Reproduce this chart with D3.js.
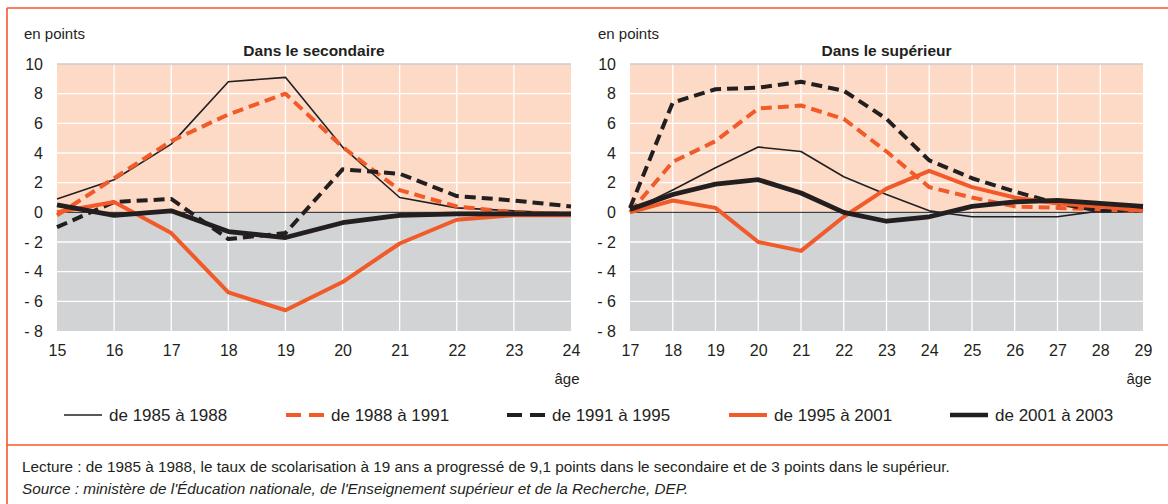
<!DOCTYPE html>
<html>
<head>
<meta charset="utf-8">
<script src="https://cdn.jsdelivr.net/npm/d3@7"></script>
<style>
  body { margin: 0; background: #fff; }
  svg text { font-family: "Liberation Sans Narrow", "Arial Narrow", "Liberation Sans", sans-serif; fill: #231f20; }
</style>
</head>
<body>
<svg id="chart" width="1168" height="504"></svg>
<script>
// ages on the x axis
const agesSec = [15, 16, 17, 18, 19, 20, 21, 22, 23, 24];
const agesSup = [17, 18, 19, 20, 21, 22, 23, 24, 25, 26, 27, 28, 29];
const yTicks = [10, 8, 6, 4, 2, 0, -2, -4, -6, -8];

const periods = ["de 1985 à 1988", "de 1988 à 1991", "de 1991 à 1995", "de 1995 à 2001", "de 2001 à 2003"];

// secondaire, one array per period
const sec1985 = [0.9, 2.2, 4.6, 8.8, 9.1, 4.4, 1.0, 0.3, 0.1, -0.1];
const sec1988 = [-0.2, 2.3, 4.8, 6.6, 8.0, 4.4, 1.5, 0.4, 0.0, -0.1];
const sec1991 = [-1.0, 0.7, 0.9, -1.8, -1.4, 2.9, 2.6, 1.1, 0.8, 0.4];
const sec1995 = [0.0, 0.7, -1.4, -5.4, -6.6, -4.7, -2.1, -0.5, -0.2, -0.2];
const sec2001 = [0.5, -0.2, 0.1, -1.3, -1.7, -0.7, -0.2, -0.1, -0.1, -0.1];

// supérieur
const sup1985 = [0.1, 1.5, 3.0, 4.4, 4.1, 2.4, 1.2, 0.1, -0.3, -0.3, -0.3, 0.1, 0.2];
const sup1988 = [0.0, 3.4, 4.8, 7.0, 7.2, 6.3, 4.1, 1.7, 1.0, 0.4, 0.3, 0.2, 0.1];
const sup1991 = [0.3, 7.4, 8.3, 8.4, 8.8, 8.2, 6.3, 3.5, 2.3, 1.4, 0.6, 0.1, 0.2];
const sup1995 = [0.0, 0.8, 0.3, -2.0, -2.6, -0.3, 1.6, 2.8, 1.7, 1.0, 0.6, 0.4, 0.1];
const sup2001 = [0.2, 1.2, 1.9, 2.2, 1.3, 0.0, -0.6, -0.3, 0.4, 0.7, 0.8, 0.6, 0.4];

const orange = "#f15a29";
const dark = "#231f20";
const styles = [
  { color: dark, width: 1.6, dash: null },
  { color: orange, width: 4, dash: "11,6" },
  { color: dark, width: 4, dash: "11,6" },
  { color: orange, width: 4, dash: null },
  { color: dark, width: 4.8, dash: null }
];

const svg = d3.select("#chart");

// frame
svg.append("line").attr("x1", 7).attr("x2", 1168).attr("y1", 8).attr("y2", 8)
  .attr("stroke", orange).attr("stroke-width", 1.6);
svg.append("line").attr("x1", 7).attr("x2", 7).attr("y1", 8).attr("y2", 504)
  .attr("stroke", orange).attr("stroke-width", 1.6);
svg.append("line").attr("x1", 7).attr("x2", 1168).attr("y1", 445).attr("y2", 445)
  .attr("stroke", orange).attr("stroke-width", 1.6);

function panel(ages, seriesList, title, left, right, unitX) {
  const top = 64, bottom = 331;
  const x = d3.scaleLinear().domain([ages[0], ages[ages.length - 1]]).range([left, right]);
  const y = d3.scaleLinear().domain([-8, 10]).range([bottom, top]);
  const g = svg.append("g");

  g.append("rect").attr("x", left).attr("y", y(10)).attr("width", right - left)
    .attr("height", y(0) - y(10)).attr("fill", "#fddac6");
  g.append("rect").attr("x", left).attr("y", y(0)).attr("width", right - left)
    .attr("height", y(-8) - y(0)).attr("fill", "#d1d3d4");

  // grid
  g.selectAll(".vg").data(ages.slice(1, -1)).join("line")
    .attr("x1", d => x(d)).attr("x2", d => x(d)).attr("y1", top).attr("y2", bottom)
    .attr("stroke", "#fff").attr("stroke-width", 1.3);
  g.selectAll(".hg").data(yTicks.filter(d => d !== 0 && d !== -8)).join("line")
    .attr("x1", left).attr("x2", right).attr("y1", d => y(d)).attr("y2", d => y(d))
    .attr("stroke", d => d === 10 ? "#c9ccd0" : "#fff").attr("stroke-width", 1.3);

  // axes
  const yAxis = g.append("g").attr("transform", `translate(${left},0)`)
    .call(d3.axisLeft(y).tickValues(yTicks).tickSize(0).tickPadding(14)
      .tickFormat(d => d < 0 ? "- " + Math.abs(d) : d));
  yAxis.select(".domain").remove();
  yAxis.selectAll("text").attr("font-size", 16).attr("font-family", null);

  const xAxis = g.append("g").attr("transform", `translate(0,${bottom})`)
    .call(d3.axisBottom(x).tickValues(ages).tickSize(0).tickPadding(14).tickFormat(d3.format("d")));
  xAxis.select(".domain").remove();
  xAxis.selectAll("text").attr("font-size", 16).attr("font-family", null);

  g.append("line").attr("x1", left).attr("x2", right).attr("y1", y(0)).attr("y2", y(0))
    .attr("stroke", dark).attr("stroke-width", 1);

  const line = d3.line().x((d, i) => x(ages[i])).y(d => y(d));
  g.selectAll(".serie").data(seriesList).join("path")
    .attr("class", "serie")
    .attr("d", d => line(d))
    .attr("fill", "none")
    .attr("stroke", (d, i) => styles[i].color)
    .attr("stroke-width", (d, i) => styles[i].width)
    .attr("stroke-dasharray", (d, i) => styles[i].dash)
    .attr("stroke-linejoin", "round");

  svg.append("text").attr("x", unitX).attr("y", 39).attr("font-size", 15).text("en points");
  svg.append("text").attr("x", (left + right) / 2).attr("y", 56).attr("text-anchor", "middle")
    .attr("font-size", 15.5).attr("font-weight", "bold").text(title);
  svg.append("text").attr("x", right - 4).attr("y", 384).attr("text-anchor", "middle")
    .attr("font-size", 15).text("âge");
}

panel(agesSec, [sec1985, sec1988, sec1991, sec1995, sec2001], "Dans le secondaire", 57, 571, 24);
panel(agesSup, [sup1985, sup1988, sup1991, sup1995, sup2001], "Dans le supérieur", 630, 1143, 598);

// legend
const legendX = [64, 286, 507, 729, 950];
const leg = svg.append("g").selectAll("g").data(periods).join("g")
  .attr("transform", (d, i) => `translate(${legendX[i]},415)`);
leg.append("line").attr("x1", 0).attr("x2", 38).attr("y1", 0).attr("y2", 0)
  .attr("stroke", (d, i) => styles[i].color)
  .attr("stroke-width", (d, i) => Math.min(styles[i].width, 4.5))
  .attr("stroke-dasharray", (d, i) => styles[i].dash ? "15,8" : null);
leg.append("text").attr("x", 45).attr("y", 6).attr("font-size", 17).text(d => d);

// notes
svg.append("text").attr("x", 22).attr("y", 472).attr("font-size", 15.3)
  .text("Lecture : de 1985 à 1988, le taux de scolarisation à 19 ans a progressé de 9,1 points dans le secondaire et de 3 points dans le supérieur.");
svg.append("text").attr("x", 22).attr("y", 494).attr("font-size", 15.3).attr("font-style", "italic")
  .text("Source : ministère de l'Éducation nationale, de l'Enseignement supérieur et de la Recherche, DEP.");
</script>
</body>
</html>
